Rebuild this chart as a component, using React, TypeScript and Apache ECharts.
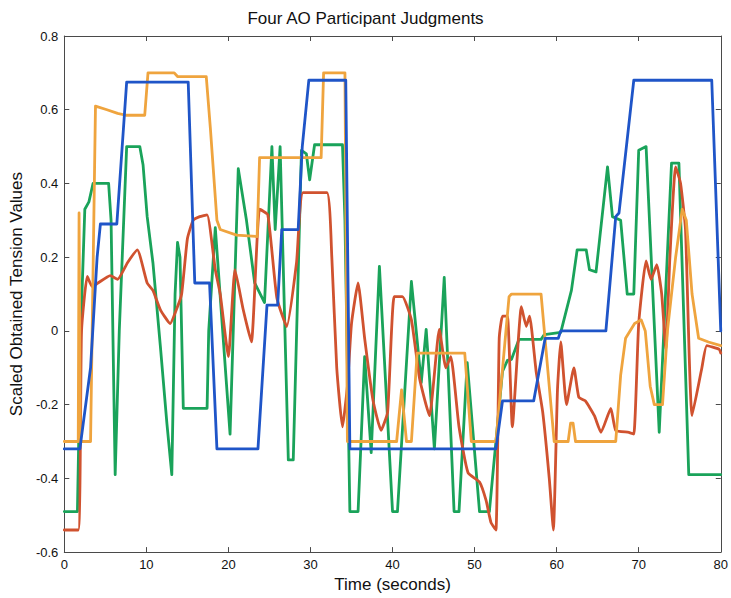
import React, { useEffect, useRef } from "react";
import * as echarts from "echarts";

const xTicks = [0, 10, 20, 30, 40, 50, 60, 70, 80];
const yTicks = [-0.6, -0.4, -0.2, 0, 0.2, 0.4, 0.6, 0.8];

const blue: number[][] = [
  [0, -0.32], [1.9, -0.32], [3.2, -0.1], [4.0, 0.2], [4.4, 0.29], [6.4, 0.29], [7.6, 0.675],
  [15.1, 0.675], [15.9, 0.13], [17.7, 0.13], [18.6, -0.32], [23.6, -0.32], [24.7, 0.07],
  [26.0, 0.07], [26.5, 0.275], [28.5, 0.275], [29.0, 0.5], [29.8, 0.68], [34.3, 0.68],
  [34.8, -0.32], [52.6, -0.32], [53.4, -0.19], [57.2, -0.19], [58.6, -0.02], [60.2, -0.02],
  [60.5, 0.0], [66.0, 0.0], [67.2, 0.31], [67.6, 0.32], [69.4, 0.68], [78.9, 0.68], [80, 0.0],
];

const orange: number[][] = [
  [0, -0.3], [1.7, -0.3], [1.8, 0.32], [1.95, -0.3], [3.2, -0.3], [3.8, 0.61], [5.2, 0.6],
  [6.5, 0.59], [7.5, 0.585], [9.8, 0.585], [10.2, 0.7], [13.4, 0.7], [13.8, 0.69], [17.3, 0.69],
  [17.8, 0.55], [18.6, 0.3], [19, 0.275], [21, 0.26], [23.5, 0.256], [23.8, 0.47], [31.3, 0.47],
  [31.6, 0.7], [34.2, 0.7], [34.5, -0.3], [40.5, -0.3], [41.1, -0.16], [41.7, -0.3], [42.3, -0.3],
  [43, -0.06], [48.8, -0.06], [49.6, -0.3], [52.6, -0.3], [54.2, 0.093], [54.5, 0.1], [58.1, 0.1],
  [59.7, -0.3], [61.4, -0.3], [61.7, -0.25], [62.0, -0.25], [62.3, -0.3], [67.2, -0.3],
  [67.8, -0.12], [68.4, -0.02], [69.5, 0.02], [70.3, 0.03], [70.8, 0.0], [71.4, -0.15],
  [71.9, -0.2], [72.9, -0.2], [73.5, 0.0], [74.5, 0.2], [75.3, 0.33], [75.8, 0.3], [76.5, 0.1],
  [77.3, -0.02], [78.5, -0.03], [80, -0.04],
];

const green: number[][] = [
  [0, -0.49], [1.6, -0.49], [2.0, 0.0], [2.5, 0.33], [3.0, 0.35], [3.5, 0.4], [5.4, 0.4],
  [5.7, 0.3], [6.2, -0.39], [6.7, 0.0], [7.6, 0.5], [9.2, 0.5], [9.6, 0.45], [10.1, 0.31],
  [10.8, 0.185], [11.7, -0.04], [12.5, -0.25], [13.1, -0.39], [13.5, 0.1], [13.8, 0.24],
  [14.1, 0.2], [14.5, -0.21], [17.4, -0.21], [17.6, 0.0], [18.4, 0.28], [20.2, -0.28],
  [21.2, 0.44], [22.2, 0.3], [23.2, 0.13], [24.4, 0.077], [25.3, 0.5], [25.7, 0.275],
  [26.3, 0.5], [27.3, -0.35], [27.9, -0.35], [28.9, 0.49], [29.5, 0.48], [29.9, 0.41],
  [30.5, 0.505], [33.9, 0.505], [34.2, 0.3], [34.8, -0.49], [35.8, -0.49], [36.6, -0.07],
  [37.4, -0.33], [38.4, 0.175], [40, -0.49], [40.6, -0.49], [42.3, 0.134], [43.5, -0.14],
  [44.1, 0.004], [45.1, -0.32], [46.3, 0.145], [47.5, -0.49], [48.1, -0.49], [49.1, -0.086],
  [50.6, -0.49], [51.8, -0.49], [53.4, -0.11], [54.0, -0.08], [54.5, -0.077], [55.4, -0.023],
  [58.1, -0.023], [58.5, -0.01], [60.5, -0.004], [61.8, 0.11], [62.5, 0.22], [63.6, 0.22],
  [64, 0.166], [64.8, 0.16], [66.2, 0.445], [66.8, 0.31], [67.8, 0.3], [68.6, 0.1], [69.4, 0.1],
  [70.0, 0.49], [70.9, 0.5], [72.5, -0.275], [74.0, 0.455], [74.9, 0.455], [76.1, -0.39],
  [80, -0.39],
];

const red: number[][] = [
  [0, -0.54], [1.7, -0.54], [2.1, 0.0], [2.8, 0.148], [3.4, 0.12], [4.1, 0.13], [5.6, 0.15],
  [6.5, 0.14], [7.7, 0.185], [8.9, 0.22], [10.1, 0.13], [10.8, 0.11], [11.7, 0.058],
  [12.9, 0.02], [13.7, 0.06], [14.3, 0.1], [15.0, 0.25], [15.7, 0.3], [16.5, 0.31],
  [17.4, 0.315], [18.4, 0.166], [19, 0.1], [20, -0.07], [20.8, 0.166], [21.8, 0.058],
  [22.8, -0.03], [23.8, 0.33], [24.8, 0.315], [25.9, 0.09], [27.1, 0.012], [28.3, 0.185],
  [29.1, 0.375], [32, 0.375], [32.6, 0.2], [33.2, -0.1], [33.9, -0.26], [34.5, -0.15],
  [35, 0.02], [35.8, 0.13], [36.6, -0.02], [37.6, -0.186], [38.6, -0.27], [39.4, -0.22],
  [40.2, 0.093], [41.2, 0.093], [42.3, 0.03], [43.3, -0.13], [44.5, -0.23], [45.7, 0.004],
  [46.5, -0.1], [47.1, -0.07], [48.1, -0.26], [49.2, -0.385], [50.6, -0.41], [51.4, -0.46],
  [52, -0.52], [52.6, -0.54], [53, -0.02], [53.4, 0.04], [54, 0.04], [54.6, -0.26],
  [55.7, 0.066], [56.3, 0.012], [56.7, 0.04], [57.5, -0.11], [58.3, -0.22], [59.1, -0.4],
  [59.6, -0.54], [60.1, -0.16], [60.5, -0.03], [61.2, -0.2], [62.1, -0.1], [62.7, -0.18],
  [63.5, -0.19], [64.6, -0.23], [65.4, -0.275], [66.6, -0.21], [67.2, -0.27], [68.8, -0.275],
  [69.4, -0.28], [70.0, 0.02], [70.9, 0.19], [71.5, 0.14], [72.2, 0.18], [72.8, 0.1],
  [73.3, -0.05], [73.8, 0.2], [74.5, 0.445], [75.1, 0.4], [75.7, 0.275], [76.5, -0.23],
  [77.7, -0.1], [78.3, -0.04], [79.8, -0.05], [80, -0.06],
];

const FONT = "Liberation Sans, Arial, sans-serif";
const AXIS_COLOR = "#4a4a4a";

function fmt(v: number) {
  const r = Math.round(v * 10) / 10;
  return r === 0 ? "0" : String(r);
}

export default function App() {
  const ref = useRef<HTMLDivElement>(null);
  useEffect(() => {
    if (!ref.current) return;
    const chart = echarts.init(ref.current, undefined, { renderer: "svg" });
    const line = (name: string, data: number[][], color: string, z: number, smooth: number) => ({
      name,
      type: "line",
      data,
      showSymbol: false,
      symbol: "none",
      smooth,
      z,
      lineStyle: { color, width: 2.8, join: "round", cap: "round" },
      emphasis: { disabled: true },
    });
    const axisLine = { show: true, onZero: false, lineStyle: { color: AXIS_COLOR, width: 1 } };
    const axisTick = { show: true, inside: true, length: 5, lineStyle: { color: AXIS_COLOR } };
    chart.setOption({
      animation: false,
      backgroundColor: "#ffffff",
      textStyle: { fontFamily: FONT },
      title: {
        text: "Four AO Participant Judgments",
        left: "center",
        top: 5,
        textStyle: { fontSize: 17, fontWeight: "normal", color: "#111", fontFamily: FONT },
      },
      grid: { left: 64, right: 9, top: 36, bottom: 45, containLabel: false },
      xAxis: [
        {
          type: "value",
          position: "bottom",
          min: xTicks[0],
          max: xTicks[xTicks.length - 1],
          interval: 10,
          name: "Time (seconds)",
          nameLocation: "middle",
          nameGap: 23,
          nameTextStyle: { fontSize: 17, color: "#111", fontFamily: FONT },
          axisLine,
          axisTick,
          axisLabel: { fontSize: 13, color: "#111", margin: 6, fontFamily: FONT },
          splitLine: { show: false },
        },
        {
          type: "value",
          position: "top",
          min: xTicks[0],
          max: xTicks[xTicks.length - 1],
          interval: 10,
          axisLine,
          axisTick,
          axisLabel: { show: false },
          splitLine: { show: false },
        },
      ],
      yAxis: [
        {
          type: "value",
          position: "left",
          min: yTicks[0],
          max: yTicks[yTicks.length - 1],
          interval: 0.2,
          name: "Scaled Obtained Tension Values",
          nameLocation: "middle",
          nameGap: 36,
          nameTextStyle: { fontSize: 17, color: "#111", fontFamily: FONT },
          axisLine,
          axisTick,
          axisLabel: { fontSize: 13, color: "#111", margin: 6, formatter: fmt, fontFamily: FONT },
          splitLine: { show: false },
        },
        {
          type: "value",
          position: "right",
          min: yTicks[0],
          max: yTicks[yTicks.length - 1],
          interval: 0.2,
          axisLine,
          axisTick,
          axisLabel: { show: false },
          splitLine: { show: false },
        },
      ],
      series: [
        line("Participant 3", green, "#1aa35a", 2, 0),
        line("Participant 4", red, "#d0522f", 3, 0.15),
        line("Participant 2", orange, "#efa43e", 4, 0),
        line("Participant 1", blue, "#1f55c8", 5, 0),
      ],
    });
    return () => chart.dispose();
  }, []);
  return (
    <div
      ref={ref}
      style={{ position: "fixed", left: 0, top: 0, width: 731, height: 598 }}
    />
  );
}
